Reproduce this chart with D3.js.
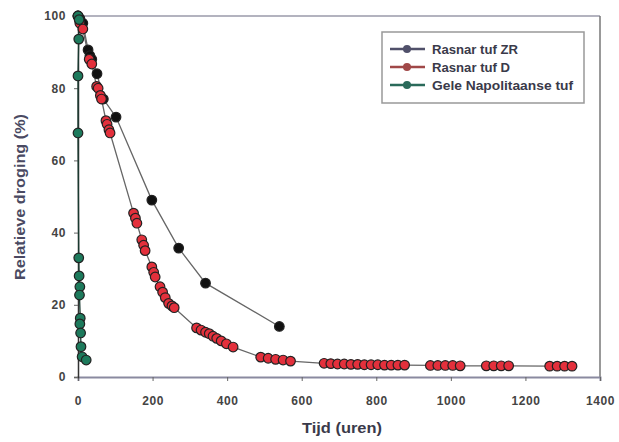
<!DOCTYPE html>
<html><head><meta charset="utf-8">
<script src="https://cdn.jsdelivr.net/npm/d3@7"></script>
<style>body{margin:0;background:#fff}svg{display:block}</style>
</head><body>
<svg id="c" width="619" height="442"></svg>
<script>
const xTicks = [0,200,400,600,800,1000,1200,1400];
const yTicks = [0,20,40,60,80,100];
const seriesNames = ["Rasnar tuf ZR","Rasnar tuf D","Gele Napolitaanse tuf"];

const zrX = [0,5,13,27,32,37,51,68,102,198,270,342,540];
const zrY = [100,99.3,98,90.6,89,88,84,77,72,49,35.7,26,14];

const dX = [0,5,13,30,37,50,54,60,63,75,78,83,86,
  149,154,158,171,176,180,198,203,207,220,227,234,243,252,258,
  318,330,342,352,362,372,384,398,416,
  490,510,530,550,570,
  660,678,696,714,732,750,768,786,804,822,840,858,876,
  945,965,985,1005,1025,1095,1115,1135,1155,1265,1285,1305,1325];
const dY = [100,98,96.4,88,86.7,80.5,80,78,77,71,70,68.5,67.6,
  45.4,44,42.6,38,36.5,35,30.5,29,27.7,25,23.5,22,20.4,19.7,19.2,
  13.6,13,12.4,12,11.3,10.7,10,9.2,8.3,
  5.5,5.2,4.9,4.7,4.4,
  3.8,3.7,3.6,3.6,3.5,3.5,3.4,3.4,3.4,3.3,3.3,3.3,3.3,
  3.2,3.2,3.2,3.2,3.1,3.1,3.1,3.1,3.1,3.0,3.0,3.0,3.0];

const gX = [0,3,2,0,0,2,3,5,4,6,5,7,8,11,22];
const gY = [100,99,93.6,83.4,67.6,33,28,25,22.7,16.3,14.7,12.2,8.4,5.6,4.7];

const svg = d3.select("#c");
const L=78,R=600,T=16,B=377;
const x = d3.scaleLinear().domain([0,1400]).range([L,R]);
const y = d3.scaleLinear().domain([0,100]).range([B,T]);
const font = "'Liberation Sans', Arial, sans-serif";

// frame
svg.append("line").attr("x1",L).attr("x2",R).attr("y1",T).attr("y2",T).attr("stroke","#9a9aaa").attr("stroke-width",1.5);
svg.append("line").attr("x1",R).attr("x2",R).attr("y1",T).attr("y2",B).attr("stroke","#777").attr("stroke-width",1.5);

const xa = svg.append("g").attr("transform",`translate(0,${B})`)
  .call(d3.axisBottom(x).tickValues(xTicks).tickSize(4).tickPadding(15).tickFormat(d3.format("d")));
const ya = svg.append("g").attr("transform",`translate(${L},0)`)
  .call(d3.axisLeft(y).tickValues(yTicks).tickSize(4).tickPadding(8).tickFormat(d3.format("d")));
xa.select(".domain").attr("stroke","#8a8aa0").attr("stroke-width",2);
ya.select(".domain").attr("stroke","#333").attr("stroke-width",1.5);
[xa,ya].forEach(a=>{
  a.selectAll(".tick line").attr("stroke","#666");
  a.selectAll(".tick text").attr("font-family",font).attr("font-size",12).attr("font-weight","bold")
    .attr("letter-spacing",0.6).attr("fill","#444");
});

const line = d3.line().x(d=>x(d[0])).y(d=>y(d[1]));
const series = [
  {xs:zrX, ys:zrY, fill:"#111", lc:"#666"},
  {xs:dX, ys:dY, fill:"#e3303c", lc:"#666"},
  {xs:gX, ys:gY, fill:"#1d7a5c", lc:"#1a3a30"}
];
series.forEach(s=>{
  const pts = s.xs.map((v,i)=>[v,s.ys[i]]);
  svg.append("path").datum(pts).attr("d",line).attr("fill","none").attr("stroke",s.lc).attr("stroke-width",1.3);
});
series.forEach(s=>{
  const pts = s.xs.map((v,i)=>[v,s.ys[i]]);
  svg.append("g").selectAll("circle").data(pts).join("circle")
    .attr("cx",d=>x(d[0])).attr("cy",d=>y(d[1])).attr("r",4.8)
    .attr("fill",s.fill).attr("stroke","#222").attr("stroke-width",1.2);
});

// legend
const lg = svg.append("g");
lg.append("rect").attr("x",382).attr("y",32).attr("width",202).attr("height",71)
  .attr("fill","#fff").attr("stroke","#999").attr("stroke-width",1.5);
const legCols = ["#50506a","#a04848","#2a6a5a"];
const legLen = [86,78,141];
seriesNames.forEach((n,i)=>{
  const yy = 49 + i*18;
  lg.append("line").attr("x1",390).attr("x2",425).attr("y1",yy).attr("y2",yy).attr("stroke",legCols[i]).attr("stroke-width",2.5);
  lg.append("circle").attr("cx",407).attr("cy",yy).attr("r",4).attr("fill",legCols[i]);
  lg.append("text").attr("x",432).attr("y",yy+4.5).text(n)
    .attr("textLength",legLen[i]).attr("lengthAdjust","spacingAndGlyphs")
    .attr("font-family",font).attr("font-size",12).attr("font-weight","bold").attr("fill","#3a3a4a");
});

svg.append("text").attr("x",342).attr("y",433).attr("text-anchor","middle").text("Tijd (uren)")
  .attr("textLength",80).attr("lengthAdjust","spacingAndGlyphs")
  .attr("font-family",font).attr("font-size",14).attr("font-weight","bold").attr("fill","#3a3a4a");
svg.append("text").attr("transform","translate(25,197) rotate(-90)").attr("text-anchor","middle").text("Relatieve droging (%)")
  .attr("textLength",166).attr("lengthAdjust","spacingAndGlyphs")
  .attr("font-family",font).attr("font-size",14).attr("font-weight","bold").attr("fill","#4a4a62");
</script>
</body></html>
